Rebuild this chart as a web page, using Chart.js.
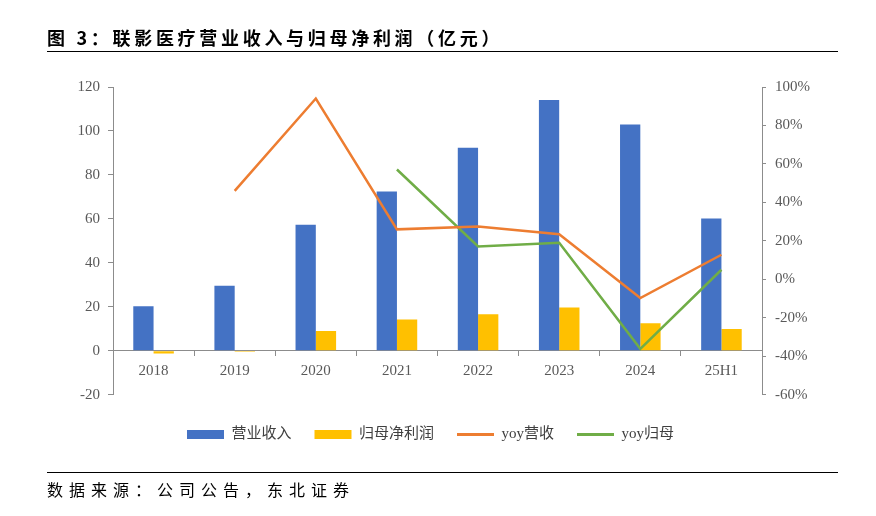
<!DOCTYPE html>
<html>
<head>
<meta charset="utf-8">
<script src="https://cdn.jsdelivr.net/npm/chart.js@4"></script>
<style>
  body { margin: 0; background: #fff; }
  #page { position: relative; width: 876px; height: 516px; overflow: hidden; }
  #wrap { position: absolute; left: 0; top: 0; width: 876px; height: 516px; }
  #title {
    position: absolute; left: 47px; top: 24px; width: 791px; height: 27px;
    border-bottom: 1.5px solid #000;
    font: bold 18px "Noto Sans CJK SC", sans-serif; letter-spacing: 3.7px; color: #000;
    line-height: 26px;
  }
  #source {
    position: absolute; left: 47px; top: 472px; width: 791px; padding-top: 4px;
    border-top: 1.5px solid #000;
    font: 16px "Noto Sans CJK SC", sans-serif; letter-spacing: 6px; color: #000;
  }
</style>
</head>
<body>
<div id="page">
  <div id="wrap"><canvas id="c"></canvas></div>
  <div id="title">图 3：联影医疗营业收入与归母净利润（亿元）</div>
  <div id="source">数据来源：公司公告，东北证券</div>
</div>
<script>
// 数据（亿元 / %）
const categories = ['2018', '2019', '2020', '2021', '2022', '2023', '2024', '25H1'];
const revenue    = [20.3, 29.6, 57.4, 72.5, 92.4, 114.1, 103.0, 60.2];
const netProfit  = [-1.2, -0.4, 9.0, 14.2, 16.6, 19.7, 12.6, 9.9];
const yoyRevenue = [null, 46.0, 94.0, 26.0, 27.5, 23.5, -9.7, 12.8];
const yoyProfit  = [null, null, null, 57.1, 17.1, 19.0, -36.1, 5.0];
const seriesNames = ['营业收入', '归母净利润', 'yoy营收', 'yoy归母'];

const serif = "'Liberation Serif', 'Times New Roman', serif";
const axisColor = '#8c8c8c';
const tickColor = '#595959';

// 图例整体往左挪一点，和原图对齐
const legendShift = {
  id: 'legendShift',
  afterLayout(chart) {
    if (chart.legend) { chart.legend.left -= 7; chart.legend.right -= 7; }
  }
};

new Chart(document.getElementById('c'), {
  type: 'bar',
  data: {
    labels: categories,
    datasets: [
      { label: seriesNames[0], data: revenue, backgroundColor: '#4472C4', yAxisID: 'y', order: 1,
        categoryPercentage: 0.5, barPercentage: 1.0 },
      { label: seriesNames[1], data: netProfit, backgroundColor: '#FFC000', yAxisID: 'y', order: 1,
        categoryPercentage: 0.5, barPercentage: 1.0 },
      { label: seriesNames[2], data: yoyRevenue, type: 'line', borderColor: '#ED7D31', backgroundColor: '#ED7D31',
        borderWidth: 2.5, pointRadius: 0, tension: 0, yAxisID: 'y1', order: 0 },
      { label: seriesNames[3], data: yoyProfit, type: 'line', borderColor: '#70AD47', backgroundColor: '#70AD47',
        borderWidth: 2.5, pointRadius: 0, tension: 0, yAxisID: 'y1', order: 0 }
    ]
  },
  plugins: [legendShift],
  options: {
    responsive: true,
    maintainAspectRatio: false,
    animation: false,
    layout: { padding: { left: 53, right: 34, top: 87, bottom: 64 } },
    scales: {
      x: {
        position: { y: 0 },
        grid: { display: true, drawOnChartArea: false, offset: true, tickLength: 5, color: axisColor },
        border: { color: axisColor, width: 1 },
        ticks: { color: tickColor, font: { family: serif, size: 15 }, padding: 6 }
      },
      y: {
        position: 'left',
        min: -20, max: 120,
        ticks: { stepSize: 20, color: tickColor, font: { family: serif, size: 15 }, padding: 8 },
        grid: { drawOnChartArea: false, tickLength: 5, color: axisColor },
        border: { color: axisColor, width: 1 },
        afterFit(s) { s.width = 60; }
      },
      y1: {
        position: 'right',
        min: -60, max: 100,
        ticks: { stepSize: 20, color: tickColor, font: { family: serif, size: 15 }, padding: 9,
          callback: v => v + '%' },
        grid: { drawOnChartArea: false, tickLength: 4, color: axisColor },
        border: { color: axisColor, width: 1 },
        afterFit(s) { s.width = 80; }
      }
    },
    plugins: {
      tooltip: { enabled: false },
      legend: {
        position: 'bottom',
        fullSize: false,
        title: { display: true, text: ' ', font: { size: 6 }, padding: { top: 2, bottom: 0 } },
        labels: {
          usePointStyle: true,
          pointStyleWidth: 37,
          boxHeight: 9,
          padding: 23,
          color: '#404040',
          font: { family: "'Liberation Serif', 'Noto Sans CJK SC', serif", size: 15 },
          sort: (a, b) => a.datasetIndex - b.datasetIndex,
          generateLabels(chart) {
            const items = Chart.defaults.plugins.legend.labels.generateLabels(chart);
            items.forEach(it => {
              const isBar = it.datasetIndex < 2;
              it.pointStyle = isBar ? 'rect' : 'line';
              it.lineWidth = isBar ? 0 : 3;
            });
            return items;
          }
        }
      }
    }
  }
});
</script>
</body>
</html>
